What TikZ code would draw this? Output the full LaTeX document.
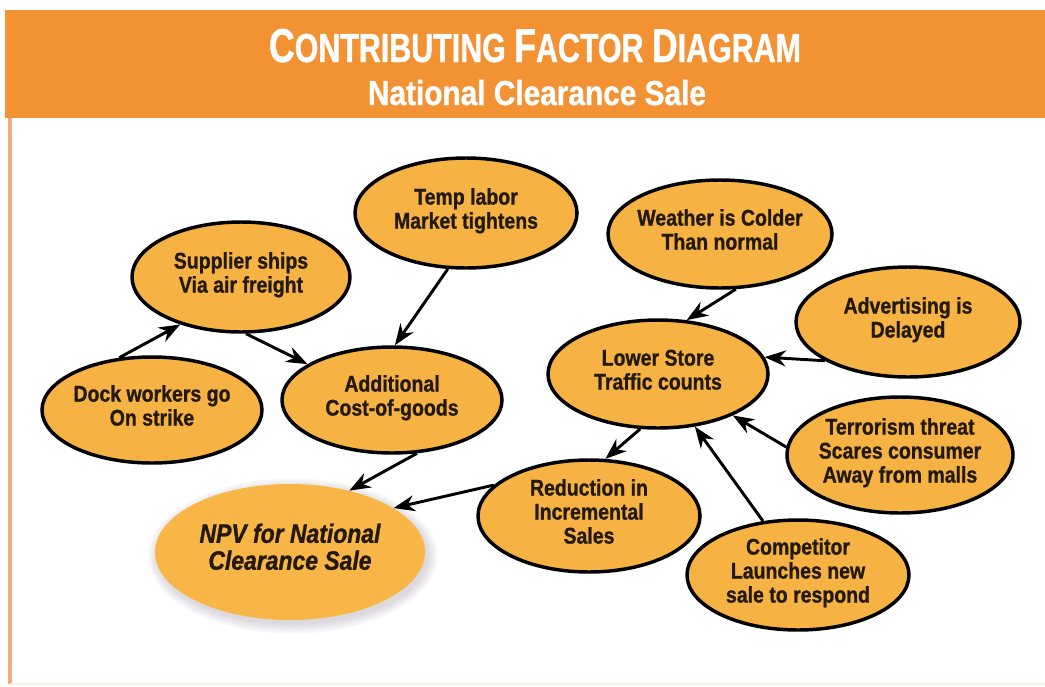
\documentclass[tikz,border=0pt]{standalone}
\usepackage{fontspec}
\newfontfamily\bodyfont[FakeStretch=0.86,FakeBold=1]{Liberation Sans}
\newfontfamily\titlefont[FakeStretch=0.75,FakeBold=1]{Liberation Sans}
\usetikzlibrary{shapes.geometric,arrows.meta,backgrounds}
\definecolor{banner}{HTML}{F39233}
\definecolor{bubble}{HTML}{F6B243}
\definecolor{npvfill}{HTML}{F8B646}
\definecolor{ink}{HTML}{24190F}
\definecolor{rim}{HTML}{F2AA78}
\definecolor{glow}{HTML}{8A8294}
% centred lines of text that do not enlarge the ellipse around them
\newcommand{\flines}[1]{\makebox[0pt]{\raisebox{-0.4em}{\smash{\begin{tabular}{@{}c@{}}#1\end{tabular}}}}}
% small-caps heading: a large initial followed by smaller capitals
\newcommand{\headcaps}[2]{{\fontsize{35.6}{36}\selectfont #1}{\fontsize{30.4}{31}\selectfont #2}}
\tikzset{
  factor/.style={ellipse, draw=black, line width=2.6pt, fill=bubble, text=ink,
    inner sep=0pt, font=\bodyfont\bfseries\fontsize{17}{18}\selectfont},
  rad/.style 2 args={minimum width=#1*1.5pt, minimum height=#2*1.5pt},
  cause/.style={line width=2.2pt, draw=black, -{Stealth[length=16pt,width=12pt]}},
  heading/.style={text=white, inner sep=0pt, anchor=base},
}
\begin{document}
\begin{tikzpicture}[x=0.75pt,y=-0.75pt]
\useasboundingbox (0,0) rectangle (1045,686);

% frame and banner
\fill[banner] (5,10) rectangle (1045,118);
\draw[rim, line width=2.4pt] (10,118) -- (10,684);
\draw[rim!20, line width=2pt] (10,684) -- (1045,684);

\node[heading, font=\titlefont\bfseries\fontsize{30.4}{31}\selectfont] (title) at (535,62)
  {\headcaps{C}{ONTRIBUTING} \headcaps{F}{ACTOR} \headcaps{D}{IAGRAM}};
\node[heading, font=\bodyfont\bfseries\fontsize{26}{26}\selectfont] (subtitle) at (537,105)
  {National Clearance Sale};

% factors
\node[factor, rad={111}{55}] (temp) at (466,213) {\flines{Temp labor\\Market tightens}};
\node[factor, rad={109}{55}] (sup)  at (241,277) {\flines{Supplier ships\\Via air freight}};
\node[factor, rad={110}{53}] (dock) at (152,410) {\flines{Dock workers go\\On strike}};
\node[factor, rad={110}{53}] (add)  at (392,400) {\flines{Additional\\Cost-of-goods}};
\node[factor, rad={112}{54}] (wea)  at (720,234) {\flines{Weather is Colder\\Than normal}};
\node[factor, rad={112}{55}] (adv)  at (908,322) {\flines{Advertising is\\Delayed}};
\node[factor, rad={110}{54}] (low)  at (658,374) {\flines{Lower Store\\Traffic counts}};
\node[factor, rad={113}{58}] (terr) at (900,455) {\flines{Terrorism threat\\Scares consumer\\Away from malls}};
\node[factor, rad={111}{56}] (red)  at (589,516) {\flines{Reduction in\\Incremental\\Sales}};
\node[factor, rad={111}{55}] (comp) at (798,575) {\flines{Competitor\\Launches new\\sale to respond}};

% outcome
\node[ellipse, fill=npvfill, rad={135}{68}, inner sep=0pt, text=ink,
  font=\bodyfont\bfseries\itshape\fontsize{20}{19}\selectfont] (npv) at (290,552)
  {\flines{NPV for National\\Clearance Sale}};
\begin{scope}[on background layer]
  \foreach \k in {1,...,10}
    \fill[glow, opacity=0.035] ([xshift=2pt,yshift=-3pt]npv.center)
      ellipse [x radius=134+\k*1.1, y radius=67+\k*1.1];
\end{scope}

% causal links
\draw[cause] (dock.122) -- (sup.218);
\draw[cause] (sup.275)  -- (add.157);
\draw[cause] (temp.252) -- (add.87);
\draw[cause] (add.295)  -- (npv.46);
\draw[cause] (red.162)  -- (npv.23);
\draw[cause] (low.252)  -- (red.74);
\draw[cause] (comp.123) -- (low.305);
\draw[cause] (terr.176) -- (low.331);
\draw[cause] (adv.205)  -- (low.9);
\draw[cause] (wea.286)  -- (low.62);
\end{tikzpicture}
\end{document}
